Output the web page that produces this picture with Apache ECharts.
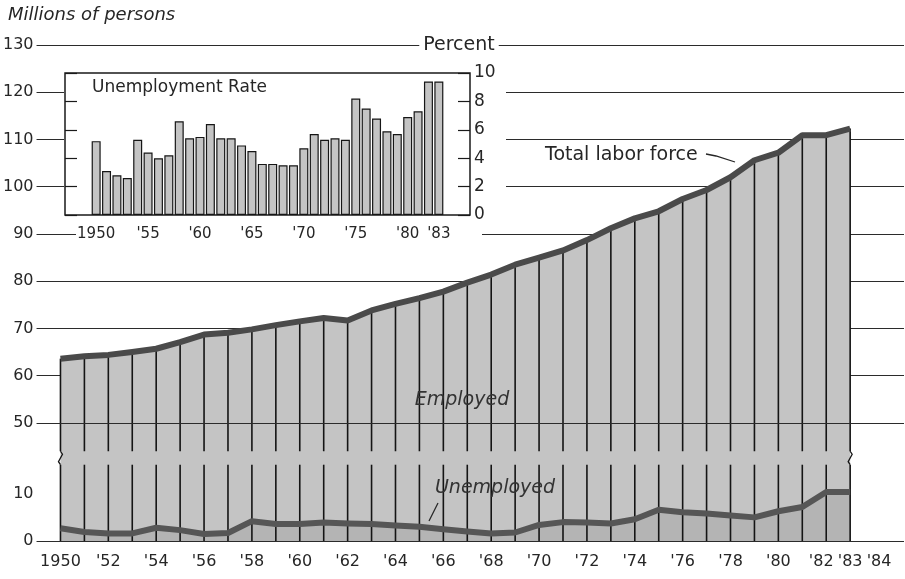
<!DOCTYPE html>
<html>
<head>
<meta charset="utf-8">
<script src="https://cdn.jsdelivr.net/npm/echarts@6/dist/echarts.min.js"></script>
<style>
  html, body { margin: 0; padding: 0; background: #fff; }
  #chart { width: 905px; height: 579px; }
</style>
</head>
<body>
<div id="chart"></div>
<script>
const years = [1950, 1951, 1952, 1953, 1954, 1955, 1956, 1957, 1958, 1959,
  1960, 1961, 1962, 1963, 1964, 1965, 1966, 1967, 1968, 1969,
  1970, 1971, 1972, 1973, 1974, 1975, 1976, 1977, 1978, 1979,
  1980, 1981, 1982, 1983]

// millions of persons
const totalLaborForce = [63.6, 64.1, 64.4, 65.0, 65.7, 67.1, 68.7, 69.1, 69.8, 70.7,
  71.5, 72.2, 71.7, 73.8, 75.2, 76.4, 77.8, 79.7, 81.4, 83.5,
  85.0, 86.5, 88.7, 91.2, 93.3, 94.8, 97.4, 99.3, 102.0, 105.6,
  107.2, 110.9, 110.9, 112.3]
const unemployed = [2.7, 1.9, 1.6, 1.6, 2.8, 2.3, 1.5, 1.7, 4.2, 3.6,
  3.6, 3.9, 3.7, 3.6, 3.3, 3.0, 2.5, 2.0, 1.6, 1.8,
  3.4, 4.0, 3.9, 3.7, 4.6, 6.6, 6.1, 5.8, 5.4, 5.0,
  6.3, 7.2, 11.0, 11.0]

// percent
const unemploymentRate = [5.2, 3.1, 2.8, 2.6, 5.3, 4.4, 4.0, 4.2, 6.6, 5.4,
  5.5, 6.4, 5.4, 5.4, 4.9, 4.5, 3.6, 3.6, 3.5, 3.5,
  4.7, 5.7, 5.3, 5.4, 5.3, 8.2, 7.5, 6.8, 5.9, 5.7,
  6.9, 7.3, 9.4, 9.4]

const mainYearLabels = [1950, 1952, 1954, 1956, 1958, 1960, 1962, 1964, 1966, 1968,
  1970, 1972, 1974, 1976, 1978, 1980, 1982, 1983, 1984]
const insetYearLabels = [1950, 1955, 1960, 1965, 1970, 1975, 1980, 1983]
const insetTickYears = [1950, 1955, 1960, 1965, 1970, 1975, 1980]

const font = 'DejaVu Sans'
const ink = '#262626'
const gridLine = { color: '#2b2b2b', width: 1.2, type: 'solid' }

function yearLabel(v) {
  return v === 1950 ? '1950' : '\'' + String(v).slice(2)
}

// the last three labels are squeezed apart a little, as in the print
function mainYearLabel(v) {
  const t = yearLabel(v)
  if (v === 1982) return '{l|' + t + '}'
  if (v === 1984) return '{r|' + t + '}'
  return t
}

const pairs = (vals) => years.map((y, i) => [y, vals[i]])

// year separators, broken where the axis is broken
function renderSeparator(params, api) {
  const x = api.value(0)
  const p0 = api.coord([x, 0])
  const p10 = api.coord([x, 10])
  const p50 = api.coord([x, 50])
  const pt = api.coord([x, api.value(1)])
  const yA = p10[1] + (p50[1] - p10[1]) * 0.41
  const yB = p10[1] + (p50[1] - p10[1]) * 0.6
  const style = { stroke: '#141414', lineWidth: 1.6 }
  const children = [
    { type: 'line', shape: { x1: p0[0], y1: p0[1], x2: p0[0], y2: yA }, style },
    { type: 'line', shape: { x1: p0[0], y1: yB, x2: p0[0], y2: pt[1] }, style }
  ]
  if (params.dataIndex === 0 || params.dataIndex === years.length - 1) {
    children.push({
      type: 'polyline',
      shape: { points: [[p0[0], yA], [p0[0] - 2, yA - 3], [p0[0] + 2, yB + 3], [p0[0], yB]] },
      style: { stroke: '#141414', lineWidth: 1.3, fill: null }
    })
  }
  return { type: 'group', children }
}

const chart = echarts.init(document.getElementById('chart'))

chart.setOption({
  animation: false,
  backgroundColor: '#fff',
  textStyle: { fontFamily: font, color: ink },
  grid: [
    { left: 36, right: 1, top: 45, bottom: 38 },
    {
      left: 65, top: 73, width: 405, height: 142, z: 3,
      show: true, backgroundColor: '#fff', borderColor: '#1a1a1a', borderWidth: 1.5
    }
  ],
  xAxis: [
    {
      gridIndex: 0, type: 'value', min: 1949, max: 1985.25,
      axisLine: { show: false }, axisTick: { show: false }, splitLine: { show: false },
      axisLabel: {
        customValues: mainYearLabels, formatter: mainYearLabel, hideOverlap: false,
        margin: 13, fontFamily: font, fontSize: 16, color: ink,
        rich: {
          l: { fontFamily: font, fontSize: 16, color: ink, padding: [0, 10, 0, 0] },
          r: { fontFamily: font, fontSize: 16, color: ink, padding: [0, 0, 0, 10] }
        }
      }
    },
    {
      gridIndex: 1, type: 'value', min: 1947, max: 1986, z: 3,
      axisLine: { show: false }, splitLine: { show: false },
      axisTick: { show: true, customValues: insetTickYears, inside: true, length: 7, lineStyle: { color: '#1a1a1a', width: 1.2 } },
      axisLabel: { customValues: insetYearLabels, formatter: yearLabel, hideOverlap: false, margin: 12, fontFamily: font, fontSize: 15, color: ink }
    }
  ],
  yAxis: [
    {
      gridIndex: 0, type: 'value', min: 0, max: 130, interval: 10,
      breaks: [{ start: 10, end: 50, gap: 15 }],
      breakArea: { show: false },
      axisLine: { show: false }, axisTick: { show: false },
      axisLabel: { margin: 3, fontFamily: font, fontSize: 16, color: ink },
      splitLine: { show: true, lineStyle: gridLine }
    },
    {
      gridIndex: 1, type: 'value', position: 'left', min: 0, max: 10, interval: 2, z: 3,
      axisLine: { show: false }, axisLabel: { show: false }, splitLine: { show: false },
      axisTick: { show: true, inside: true, length: 12, lineStyle: { color: '#1a1a1a', width: 1.2 } }
    },
    {
      gridIndex: 1, type: 'value', position: 'right', min: 0, max: 10, interval: 2, z: 3,
      axisLine: { show: false }, splitLine: { show: false },
      axisTick: { show: true, inside: true, length: 12, lineStyle: { color: '#1a1a1a', width: 1.2 } },
      axisLabel: { margin: 4, fontFamily: font, fontSize: 17, color: ink }
    }
  ],
  graphic: [
    { type: 'rect', z: 1, shape: { x: 64, y: 56, width: 442, height: 168 }, style: { fill: '#fff' } },
    { type: 'rect', z: 1, shape: { x: 76, y: 224, width: 406, height: 22 }, style: { fill: '#fff' } },
    {
      type: 'text', z: 10,
      style: { text: 'Millions of persons', x: 8, y: 15, font: 'italic 18px "DejaVu Sans"', fill: ink, verticalAlign: 'middle' }
    },
    {
      type: 'text', z: 10,
      style: {
        text: 'Percent', x: 459, y: 45, font: '19px "DejaVu Sans"', fill: ink,
        align: 'center', verticalAlign: 'middle', backgroundColor: '#fff', padding: [0, 4]
      }
    },
    {
      type: 'text', z: 10,
      style: { text: 'Unemployment Rate', x: 92, y: 88, font: '17px "DejaVu Sans"', fill: ink, verticalAlign: 'middle' }
    },
    {
      type: 'text', z: 10,
      style: { text: 'Total labor force', x: 545, y: 155, font: '19px "DejaVu Sans"', fill: ink, verticalAlign: 'middle' }
    },
    { type: 'polyline', z: 10, shape: { points: [[706, 154], [716, 156], [735, 162]] }, style: { stroke: ink, lineWidth: 1.3, fill: null } },
    {
      type: 'text', z: 10,
      style: { text: 'Employed', x: 462, y: 400, font: 'italic 19px "DejaVu Sans"', fill: '#333', align: 'center', verticalAlign: 'middle' }
    },
    {
      type: 'text', z: 10,
      style: { text: 'Unemployed', x: 495, y: 488, font: 'italic 19px "DejaVu Sans"', fill: '#333', align: 'center', verticalAlign: 'middle' }
    },
    { type: 'line', z: 10, shape: { x1: 438, y1: 503, x2: 429, y2: 521 }, style: { stroke: ink, lineWidth: 1.3 } }
  ],
  series: [
    {
      // carries the 50 grid line, which the broken axis leaves out
      name: 'Grid 50', type: 'line', xAxisIndex: 0, yAxisIndex: 0, data: [], z: 1, silent: true,
      markLine: {
        silent: true, symbol: ['none', 'none'], label: { show: false },
        lineStyle: gridLine, data: [{ yAxis: 50 }]
      }
    },
    {
      name: 'Total labor force area', type: 'line', xAxisIndex: 0, yAxisIndex: 0,
      data: pairs(totalLaborForce), symbol: 'none', silent: true, z: 2,
      lineStyle: { width: 0 }, areaStyle: { color: '#c4c4c4', opacity: 1 }
    },
    {
      name: 'Unemployed area', type: 'line', xAxisIndex: 0, yAxisIndex: 0,
      data: pairs(unemployed), symbol: 'none', silent: true, z: 2,
      lineStyle: { width: 0 }, areaStyle: { color: '#b4b4b4', opacity: 1 }
    },
    {
      name: 'Year separators', type: 'custom', xAxisIndex: 0, yAxisIndex: 0,
      data: pairs(totalLaborForce), renderItem: renderSeparator, silent: true, z: 3
    },
    {
      name: 'Unemployed', type: 'line', xAxisIndex: 0, yAxisIndex: 0,
      data: pairs(unemployed), symbol: 'none', silent: true, z: 4,
      lineStyle: { width: 6, color: '#565656', join: 'round' }
    },
    {
      name: 'Total labor force', type: 'line', xAxisIndex: 0, yAxisIndex: 0,
      data: pairs(totalLaborForce), symbol: 'none', silent: true, z: 4,
      lineStyle: { width: 6, color: '#4a4a4a', join: 'round' }
    },
    {
      name: 'Unemployment rate', type: 'bar', xAxisIndex: 1, yAxisIndex: 2,
      data: pairs(unemploymentRate), barWidth: 9, silent: true, z: 4,
      itemStyle: { color: '#c4c4c4', borderColor: '#161616', borderWidth: 1.2 }
    }
  ]
})
</script>
</body>
</html>
